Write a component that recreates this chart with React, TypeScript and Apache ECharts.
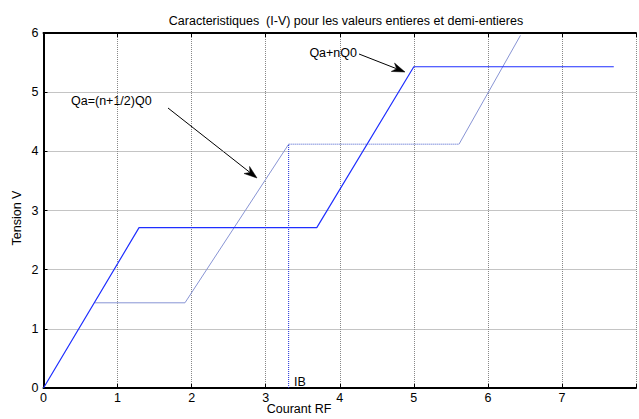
import React, { useEffect, useRef } from "react";
import * as echarts from "echarts";

const xTicks = [0, 1, 2, 3, 4, 5, 6, 7, 8];
const yTicks = [0, 1, 2, 3, 4, 5, 6];

// Qa + nQ0 (integer values)
const intX = [0, 1.29, 3.69, 5.0, 7.7];
const intY = [0, 2.71, 2.71, 5.43, 5.43];

// Qa = (n+1/2)Q0 (half-integer values)
const halfAX = [0.69, 1.91, 3.31];
const halfAY = [1.44, 1.44, 4.12];
const halfPlateauX = [3.31, 5.61];
const halfPlateauY = [4.12, 4.12];
const halfBX = [5.61, 6.44];
const halfBY = [4.12, 5.96];

// IB marker
const ibX = [3.31, 3.31];
const ibY = [0, 4.12];

const zip = (xs: number[], ys: number[]) => xs.map((x, i) => [x, ys[i]]);

function arrow(x1: number, y1: number, x2: number, y2: number) {
  const dx = x2 - x1;
  const dy = y2 - y1;
  const len = Math.sqrt(dx * dx + dy * dy);
  const ux = dx / len;
  const uy = dy / len;
  const px = -uy;
  const py = ux;
  const hl = 13;
  const hw = 4.5;
  const bx = x2 - hl * ux;
  const by = y2 - hl * uy;
  const nx = x2 - 9 * ux;
  const ny = y2 - 9 * uy;
  return [
    {
      type: "line",
      shape: { x1, y1, x2: nx, y2: ny },
      style: { stroke: "#000", lineWidth: 1 },
    },
    {
      type: "polygon",
      shape: {
        points: [
          [x2, y2],
          [bx + hw * px, by + hw * py],
          [nx, ny],
          [bx - hw * px, by - hw * py],
        ],
      },
      style: { fill: "#000", stroke: "#000", lineWidth: 0.5 },
    },
  ];
}

export default function App() {
  const ref = useRef<HTMLDivElement>(null);
  useEffect(() => {
    if (!ref.current) return;
    const chart = echarts.init(ref.current, undefined, { renderer: "svg" });
    const font = "'Liberation Sans', Arial, sans-serif";
    const fs = 12.5;
    const split = { show: true, lineStyle: { color: "#888", type: [1, 1] as any, width: 1 } };
    chart.setOption({
      animation: false,
      backgroundColor: "#fff",
      textStyle: { fontFamily: font },
      title: {
        text: "Caracteristiques  (I-V) pour les valeurs entieres et demi-entieres",
        left: 341,
        top: 9,
        textAlign: "center",
        textStyle: { fontSize: fs, fontWeight: "normal", color: "#000", fontFamily: font },
      },
      grid: { left: 43.5, top: 33, width: 596.8, bottom: 31 },
      xAxis: [
        {
          type: "value",
          min: 0,
          max: 8,
          interval: 1,
          position: "bottom",
          axisLine: { show: true, onZero: false, lineStyle: { color: "#000", width: 2 } },
          axisTick: { show: true, inside: true, length: 4, lineStyle: { color: "#000" } },
          axisLabel: {
            color: "#000",
            fontSize: fs,
            fontFamily: font,
            margin: 3,
            formatter: (v: number) => (v === 8 ? "" : String(v)),
          },
          splitLine: split,
        },
        {
          type: "value",
          min: 0,
          max: 8,
          interval: 1,
          position: "top",
          axisLine: { show: true, onZero: false, lineStyle: { color: "#000", width: 2 } },
          axisTick: { show: true, inside: true, length: 4, lineStyle: { color: "#000" } },
          axisLabel: { show: false },
          splitLine: { show: false },
        },
      ],
      yAxis: {
        type: "value",
        min: 0,
        max: 6,
        interval: 1,
        axisLine: { show: true, onZero: false, lineStyle: { color: "#000", width: 2 } },
        axisTick: { show: true, inside: true, length: 4, lineStyle: { color: "#000" } },
        axisLabel: { color: "#000", fontSize: fs, fontFamily: font, margin: 5 },
        splitLine: split,
      },
      series: [
        {
          type: "line",
          data: zip(halfAX, halfAY),
          symbol: "none",
          lineStyle: { color: "#8894d4", width: 1 },
        },
        {
          type: "line",
          data: zip(halfPlateauX, halfPlateauY),
          symbol: "none",
          lineStyle: { color: "#7f8fdc", width: 1.5, type: [1, 1] },
        },
        {
          type: "line",
          data: zip(halfBX, halfBY),
          symbol: "none",
          lineStyle: { color: "#8894d4", width: 1 },
        },
        {
          type: "line",
          data: zip(ibX, ibY),
          symbol: "none",
          lineStyle: { color: "#1a2ad8", width: 1, type: [1, 1] },
        },
        {
          type: "line",
          data: zip(intX, intY),
          symbol: "none",
          lineStyle: { color: "#1f2fff", width: 1.2 },
        },
      ],
      graphic: [
        {
          type: "text",
          rotation: Math.PI / 2,
          style: { text: "Tension V", fill: "#000", font: `${fs}px ${font}`, textAlign: "center", textVerticalAlign: "middle" },
          x: 17,
          y: 218,
        },
        {
          type: "text",
          x: 299,
          y: 409,
          style: { text: "Courant RF", font: `${fs}px ${font}`, fill: "#000", textAlign: "center", textVerticalAlign: "middle" },
        },
        {
          type: "text",
          x: 294,
          y: 382,
          style: { text: "IB", font: `${fs}px ${font}`, fill: "#000", textAlign: "left", textVerticalAlign: "middle" },
        },
        {
          type: "text",
          x: 357,
          y: 53,
          style: { text: "Qa+nQ0", font: `${fs}px ${font}`, fill: "#000", textAlign: "right", textVerticalAlign: "middle" },
        },
        {
          type: "text",
          x: 71,
          y: 101,
          style: { text: "Qa=(n+1/2)Q0", font: `${fs}px ${font}`, fill: "#000", textAlign: "left", textVerticalAlign: "middle" },
        },
        ...arrow(359, 54, 405, 72),
        ...arrow(168, 108, 257, 178),
      ],
    });
    return () => chart.dispose();
  }, []);
  return (
    <div
      ref={ref}
      style={{ position: "fixed", left: 0, top: 0, width: 639, height: 419 }}
    />
  );
}
